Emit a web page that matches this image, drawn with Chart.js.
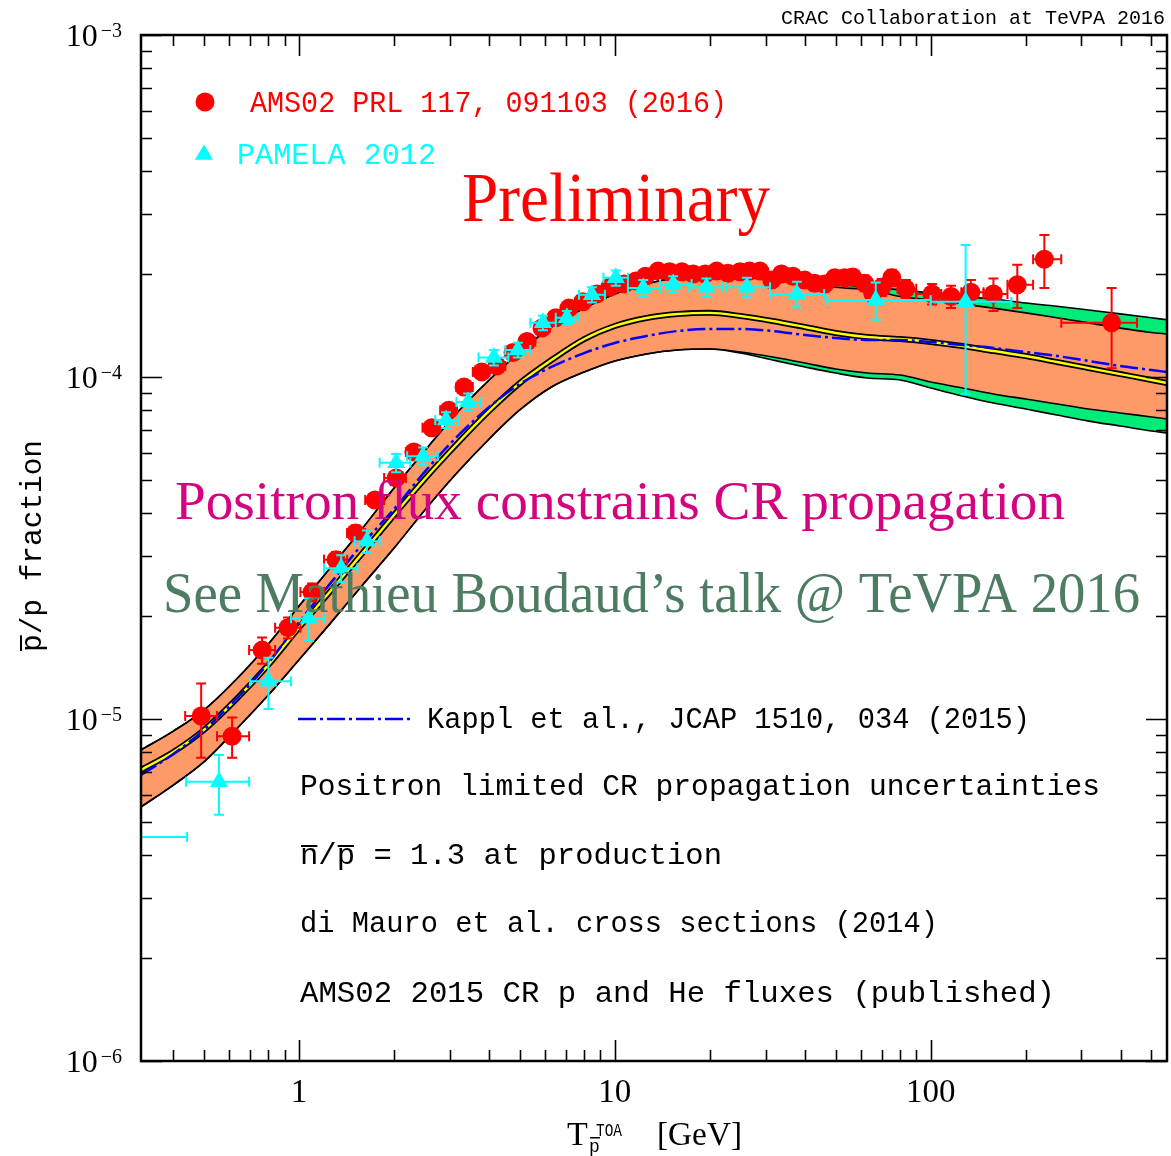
<!DOCTYPE html>
<html>
<head>
<meta charset="utf-8">
<script src="https://cdn.jsdelivr.net/npm/chart.js@4.4.0/dist/chart.umd.min.js"></script>
<style>
  html, body { margin: 0; padding: 0; background: #fff; }
</style>
</head>
<body>
<canvas id="chart" width="1171" height="1156"></canvas>
<script>
// energy grid (GeV) the propagation model curves are sampled on
var modelE = [0.316, 0.4, 0.5, 0.63, 0.8, 1, 1.26, 1.58, 2, 2.5, 3.16, 4, 5, 6.3, 8, 10, 12.6, 15.8,
  20, 25, 31.6, 40, 50, 63, 80, 100, 126, 158, 200, 251, 316, 398, 500, 560];

// green band: full uncertainty
var outerHigh = [8.12e-6, 9.22e-6, 1.062e-5, 1.30e-5, 1.657e-5, 2.14e-5, 2.78e-5, 3.59e-5, 4.74e-5, 6.08e-5,
  7.85e-5, 9.80e-5, 1.183e-4, 1.40e-4, 1.59e-4, 1.75e-4, 1.87e-4, 1.95e-4, 1.97e-4, 1.96e-4, 1.93e-4,
  1.91e-4, 1.87e-4, 1.83e-4, 1.80e-4, 1.76e-4, 1.72e-4, 1.69e-4, 1.645e-4, 1.61e-4, 1.57e-4, 1.53e-4, 1.49e-4, 1.47e-4];
var outerLow = [5.53e-6, 6.41e-6, 7.49e-6, 9.29e-6, 1.175e-5, 1.49e-5, 1.91e-5, 2.45e-5, 3.16e-5, 4.08e-5,
  5.24e-5, 6.59e-5, 8.01e-5, 9.35e-5, 1.034e-4, 1.114e-4, 1.168e-4, 1.199e-4, 1.207e-4,
  1.175e-4, 1.121e-4, 1.070e-4, 1.027e-4, 9.93e-5, 9.80e-5, 9.29e-5, 8.80e-5, 8.39e-5, 8.06e-5, 7.74e-5, 7.43e-5, 7.19e-5, 6.95e-5, 6.86e-5];

// orange band: positron-limited propagation uncertainty
var innerHigh = [8.12e-6, 9.22e-6, 1.062e-5, 1.30e-5, 1.657e-5, 2.14e-5, 2.78e-5, 3.59e-5, 4.74e-5, 6.08e-5,
  7.85e-5, 9.80e-5, 1.183e-4, 1.40e-4, 1.59e-4, 1.75e-4, 1.87e-4, 1.95e-4, 1.97e-4, 1.96e-4, 1.93e-4,
  1.90e-4, 1.83e-4, 1.80e-4, 1.72e-4, 1.68e-4, 1.635e-4, 1.59e-4, 1.54e-4, 1.49e-4, 1.44e-4, 1.39e-4, 1.35e-4, 1.336e-4];
var innerLow = [5.53e-6, 6.41e-6, 7.49e-6, 9.29e-6, 1.175e-5, 1.49e-5, 1.91e-5, 2.45e-5, 3.16e-5, 4.08e-5,
  5.24e-5, 6.59e-5, 8.01e-5, 9.35e-5, 1.034e-4, 1.114e-4, 1.168e-4, 1.199e-4, 1.207e-4,
  1.183e-4, 1.144e-4, 1.099e-4, 1.055e-4, 1.027e-4, 1.013e-4, 9.67e-5, 9.29e-5, 8.92e-5, 8.62e-5, 8.34e-5, 8.06e-5, 7.85e-5, 7.64e-5, 7.54e-5];

// best-fit (yellow) and Kappl et al. (blue dash-dot)
var bestFit = [7.10e-6, 8.01e-6, 9.29e-6, 1.137e-5, 1.44e-5, 1.85e-5, 2.37e-5, 3.04e-5, 3.95e-5, 5.03e-5,
  6.37e-5, 7.96e-5, 9.60e-5, 1.121e-4, 1.291e-4, 1.41e-4, 1.488e-4, 1.528e-4, 1.54e-4, 1.508e-4, 1.458e-4,
  1.40e-4, 1.345e-4, 1.309e-4, 1.291e-4, 1.266e-4, 1.232e-4, 1.191e-4, 1.152e-4, 1.106e-4, 1.062e-4, 1.020e-4, 9.80e-5, 9.60e-5];
var kappl = [6.86e-6, 7.90e-6, 9.29e-6, 1.137e-5, 1.458e-5, 1.92e-5, 2.50e-5, 3.23e-5, 4.11e-5, 5.28e-5,
  6.68e-5, 8.17e-5, 9.54e-5, 1.070e-4, 1.175e-4, 1.257e-4, 1.318e-4, 1.363e-4, 1.382e-4, 1.382e-4, 1.363e-4,
  1.327e-4, 1.30e-4, 1.283e-4, 1.283e-4, 1.266e-4, 1.24e-4, 1.216e-4, 1.183e-4, 1.152e-4, 1.114e-4, 1.077e-4, 1.048e-4, 1.034e-4];

// AMS-02 pbar/p
var amsE = [0.49, 0.614, 0.764, 0.923, 1.10, 1.31, 1.51, 1.74, 2.03, 2.31, 2.63, 2.98, 3.33, 3.79, 4.23, 4.76,
  5.27, 5.88, 6.50, 7.15, 7.92, 8.77, 9.64, 10.7, 11.66, 12.5, 13.7, 14.9, 16.3, 17.7, 19.3, 21.0, 22.8, 24.9,
  26.7, 28.8, 31.4, 33.7, 36.6, 39.9, 42.9, 46.2, 49.7, 53.4, 56.6, 61.8, 65.5, 70.0, 75.3, 83.4, 101, 116,
  134, 158, 188, 229, 374];
var amsRatio = [1.02e-5, 8.9e-6, 1.59e-5, 1.85e-5, 2.35e-5, 2.92e-5, 3.50e-5, 4.37e-5, 5.07e-5, 6.04e-5, 7.1e-5,
  8.0e-5, 9.35e-5, 1.035e-4, 1.077e-4, 1.18e-4, 1.27e-4, 1.39e-4, 1.49e-4, 1.59e-4, 1.66e-4, 1.75e-4, 1.83e-4,
  1.87e-4, 1.91e-4, 1.97e-4, 2.04e-4, 2.03e-4, 2.03e-4, 2.00e-4, 2.00e-4, 2.04e-4, 2.01e-4, 2.03e-4, 2.04e-4,
  2.04e-4, 1.92e-4, 2.00e-4, 1.97e-4, 1.92e-4, 1.88e-4, 1.87e-4, 1.95e-4, 1.95e-4, 1.96e-4, 1.88e-4, 1.76e-4,
  1.83e-4, 1.95e-4, 1.81e-4, 1.75e-4, 1.72e-4, 1.77e-4, 1.75e-4, 1.86e-4, 2.21e-4, 1.44e-4];
var amsErr = [2.5e-6, 1.2e-6, 1.4e-6, 1.3e-6, 1.4e-6, 1.6e-6, 1.8e-6, 2.0e-6, 2.2e-6, 2.5e-6, 2.8e-6, 3.0e-6,
  3.5e-6, 4.0e-6, 4.0e-6, 4.5e-6, 4.5e-6, 5.0e-6, 5.0e-6, 5.5e-6, 6.0e-6, 6.0e-6, 6.0e-6, 6.0e-6, 6.0e-6,
  6.0e-6, 7.0e-6, 7.0e-6, 7.0e-6, 7.0e-6, 7.0e-6, 7.5e-6, 7.5e-6, 8.0e-6, 8.0e-6, 8.0e-6, 8.0e-6, 8.5e-6,
  8.5e-6, 9.0e-6, 9.0e-6, 9.0e-6, 9.5e-6, 9.5e-6, 1.0e-5, 1.0e-5, 1.0e-5, 1.05e-5, 1.1e-5, 1.1e-5, 1.2e-5,
  1.3e-5, 1.5e-5, 1.9e-5, 2.7e-5, 3.9e-5, 3.8e-5];
var amsBinEdges = [0.436, 0.55, 0.695, 0.84, 1.01, 1.2, 1.42, 1.62, 1.86, 2.18, 2.46, 2.8, 3.15, 3.55, 4.0,
  4.5, 5.0, 5.6, 6.2, 6.85, 7.5, 8.35, 9.2, 10.2, 11.2, 12.1, 13.1, 14.3, 15.6, 17.0, 18.5, 20.1, 21.9, 23.8,
  25.8, 27.7, 30.0, 32.5, 35.1, 38.2, 41.4, 44.5, 48.0, 51.5, 55.0, 59.0, 63.6, 67.7, 72.6, 78.5, 90, 108,
  125, 147, 175, 211, 259, 450];

// PAMELA 2012
var pamE = [0.28, 0.558, 0.80, 1.075, 1.36, 1.64, 2.03, 2.47, 2.92, 3.43, 4.14, 4.93, 5.92, 7.05, 8.46, 10.07,
  12.3, 15.3, 19.5, 26.2, 37.7, 67, 129];
var pamRatio = [4.52e-6, 6.55e-6, 1.29e-5, 1.97e-5, 2.76e-5, 3.31e-5, 5.61e-5, 5.87e-5, 7.49e-5, 8.45e-5,
  1.14e-4, 1.20e-4, 1.44e-4, 1.49e-4, 1.74e-4, 1.95e-4, 1.82e-4, 1.87e-4, 1.83e-4, 1.83e-4, 1.75e-4, 1.68e-4, 1.66e-4];
var pamErr = [3e-7, 1.3e-6, 2.2e-6, 2.8e-6, 2.5e-6, 2.5e-6, 3.4e-6, 3.5e-6, 4e-6, 5e-6, 6e-6, 6e-6, 7e-6, 7e-6,
  9e-6, 1.0e-5, 1.0e-5, 1.0e-5, 1.1e-5, 1.2e-5, 1.5e-5, 2.1e-5, 7.7e-5];
var pamLo = [0.18, 0.439, 0.70, 0.943, 1.2, 1.5, 1.8, 2.2, 2.7, 3.15, 3.7, 4.5, 5.4, 6.5, 7.7, 9.2, 11.0, 13.9,
  17.2, 22.5, 31, 47, 100];
var pamHi = [0.442, 0.695, 0.943, 1.2, 1.53, 1.8, 2.25, 2.75, 3.2, 3.75, 4.6, 5.4, 6.5, 7.7, 9.3, 11.0, 13.9,
  17.5, 22.0, 31.0, 46, 100, 180];

// axis ticks
var xTickValues = [1, 10, 100];
var xTickLabels = ['1', '10', '100'];
var yTickValues = [1e-3, 1e-4, 1e-5, 1e-6];
var yTickExps = ['\u22123', '\u22124', '\u22125', '\u22126'];

var SERIF = '"Liberation Serif", "Times New Roman", serif';
var MONO = '"Liberation Mono", "Courier New", monospace';
var ORANGE = '#fe9a68';
var GREEN = '#00eb78';

function curve(vals) {
  return modelE.map(function (e, i) { return { x: e, y: vals[i] }; });
}
function points(es, vs) {
  return es.map(function (e, i) { return { x: e, y: vs[i] }; });
}

function lineSet(vals, extra) {
  var ds = {
    data: curve(vals),
    borderColor: '#000',
    borderWidth: 1.6,
    pointRadius: 0,
    fill: false,
    cubicInterpolationMode: 'monotone'
  };
  for (var k in extra) ds[k] = extra[k];
  return ds;
}

// draw text, optionally stretched to a given width
function put(ctx, str, x, y, font, color, align, fitW) {
  ctx.save();
  ctx.font = font;
  ctx.fillStyle = color;
  ctx.textBaseline = 'alphabetic';
  ctx.textAlign = 'left';
  var w = ctx.measureText(str).width;
  var sx = fitW ? fitW / w : 1;
  var left = align === 'right' ? x - w * sx : (align === 'center' ? x - w * sx / 2 : x);
  ctx.translate(left, y);
  ctx.scale(sx, 1);
  ctx.fillText(str, 0, 0);
  ctx.restore();
  return { left: left, scale: sx, width: w * sx };
}

// horizontal and vertical error bars under the markers
var errorBars = {
  id: 'errorBars',
  beforeDatasetDraw: function (chart, args) {
    var ds = chart.data.datasets[args.index];
    if (!ds.errY) return;
    var ctx = chart.ctx, xs = chart.scales.x, ys = chart.scales.y, a = chart.chartArea;
    ctx.save();
    ctx.beginPath();
    ctx.rect(a.left, a.top, a.right - a.left, a.bottom - a.top);
    ctx.clip();
    ctx.strokeStyle = ds.backgroundColor;
    ctx.lineWidth = 2;
    ds.data.forEach(function (p, i) {
      var px = xs.getPixelForValue(p.x), py = ys.getPixelForValue(p.y);
      var y1 = ys.getPixelForValue(p.y + ds.errY[i]);
      var y2 = ys.getPixelForValue(p.y - ds.errY[i]);
      var x1 = xs.getPixelForValue(ds.binLo[i]);
      var x2 = xs.getPixelForValue(ds.binHi[i]);
      ctx.beginPath();
      ctx.moveTo(px, y1); ctx.lineTo(px, y2);
      ctx.moveTo(px - 5, y1); ctx.lineTo(px + 5, y1);
      ctx.moveTo(px - 5, y2); ctx.lineTo(px + 5, y2);
      ctx.moveTo(x1, py); ctx.lineTo(x2, py);
      ctx.moveTo(x1, py - 5); ctx.lineTo(x1, py + 5);
      ctx.moveTo(x2, py - 5); ctx.lineTo(x2, py + 5);
      ctx.stroke();
    });
    ctx.restore();
  }
};

// frame, inward ticks on all four sides, tick labels
var frame = {
  id: 'frame',
  afterDatasetsDraw: function (chart) {
    var ctx = chart.ctx, a = chart.chartArea, xs = chart.scales.x, ys = chart.scales.y;
    ctx.save();
    ctx.strokeStyle = '#000';
    ctx.lineWidth = 1.6;
    ctx.beginPath();
    for (var d = -1; d <= 2; d++) {
      for (var m = 1; m <= 9; m++) {
        var v = m * Math.pow(10, d);
        if (v < xs.min || v > xs.max) continue;
        var px = Math.round(xs.getPixelForValue(v)) + 0.5;
        var len = m === 1 ? 21 : 11;
        ctx.moveTo(px, a.bottom); ctx.lineTo(px, a.bottom - len);
        ctx.moveTo(px, a.top); ctx.lineTo(px, a.top + len);
      }
    }
    for (d = -6; d <= -3; d++) {
      for (m = 1; m <= 9; m++) {
        v = m * Math.pow(10, d);
        if (v < ys.min * 0.999 || v > ys.max * 1.001) continue;
        var py = Math.round(ys.getPixelForValue(v)) + 0.5;
        len = m === 1 ? 21 : 11;
        ctx.moveTo(a.left, py); ctx.lineTo(a.left + len, py);
        ctx.moveTo(a.right, py); ctx.lineTo(a.right - len, py);
      }
    }
    ctx.stroke();
    ctx.lineWidth = 2.5;
    ctx.strokeRect(a.left, a.top, a.right - a.left, a.bottom - a.top);
    ctx.restore();

    xTickValues.forEach(function (v, i) {
      put(ctx, xTickLabels[i], xs.getPixelForValue(v), 1102, '33px ' + SERIF, '#000', 'center');
    });
    yTickValues.forEach(function (v, i) {
      var py = ys.getPixelForValue(v);
      var sup = put(ctx, yTickExps[i], 122, py + 2, '20px ' + SERIF, '#000', 'right');
      put(ctx, '10', sup.left - 3, py + 11, '32px ' + SERIF, '#000', 'right');
    });
  }
};

// legends, annotations and axis titles
var notes = {
  id: 'notes',
  afterDraw: function (chart) {
    var ctx = chart.ctx;
    put(ctx, 'CRAC Collaboration at TeVPA 2016', 1165, 24, '20px ' + MONO, '#000', 'right', 384);

    // upper legend
    ctx.save();
    ctx.fillStyle = '#ff0000';
    ctx.beginPath();
    ctx.arc(205, 102, 9.5, 0, Math.PI * 2);
    ctx.fill();
    ctx.fillStyle = '#00ffff';
    ctx.beginPath();
    ctx.moveTo(204, 144.5);
    ctx.lineTo(204 + 9.1, 159.8);
    ctx.lineTo(204 - 9.1, 159.8);
    ctx.closePath();
    ctx.fill();
    ctx.restore();
    put(ctx, 'AMS02 PRL 117, 091103 (2016)', 250, 112, '29px ' + MONO, '#ff0000', 'left', 477);
    put(ctx, 'PAMELA 2012', 237, 164, '30px ' + MONO, '#00ffff', 'left', 199);

    put(ctx, 'Preliminary', 462, 221, '70px ' + SERIF, '#ff0000', 'left', 308);
    put(ctx, 'Positron flux constrains CR propagation', 175, 519, '54px ' + SERIF, '#d4037f', 'left', 890);
    put(ctx, 'See Mathieu Boudaud\u2019s talk @ TeVPA 2016', 163, 612, '56px ' + SERIF, '#4d7c62', 'left', 977);

    // lower legend
    ctx.save();
    ctx.strokeStyle = '#0000ff';
    ctx.lineWidth = 2.5;
    ctx.setLineDash([18, 4, 3, 4]);
    ctx.beginPath();
    ctx.moveTo(298, 719);
    ctx.lineTo(410, 719);
    ctx.stroke();
    ctx.restore();
    put(ctx, 'Kappl et al., JCAP 1510, 034 (2015)', 427, 728, '29px ' + MONO, '#000', 'left', 603);
    put(ctx, 'Positron limited CR propagation uncertainties', 300, 795, '29px ' + MONO, '#000', 'left', 800);
    var np = put(ctx, 'n/p = 1.3 at production', 300, 864, '29px ' + MONO, '#000', 'left', 422);
    ctx.save();
    ctx.font = '29px ' + MONO;
    var adv = ctx.measureText('n').width * np.scale;
    ctx.fillStyle = '#000';
    ctx.fillRect(np.left + 1, 845, adv - 2, 2);
    ctx.fillRect(np.left + 2 * adv + 1, 845, adv - 2, 2);
    ctx.restore();
    put(ctx, 'di Mauro et al. cross sections (2014)', 300, 932, '29px ' + MONO, '#000', 'left', 638);
    put(ctx, 'AMS02 2015 CR p and He fluxes (published)', 300, 1002, '29px ' + MONO, '#000', 'left', 755);

    // y title, rotated
    ctx.save();
    ctx.translate(41, 652);
    ctx.rotate(-Math.PI / 2);
    var yt = put(ctx, 'p/p fraction', 0, 0, '29px ' + MONO, '#000', 'left', 212);
    ctx.font = '29px ' + MONO;
    var padv = ctx.measureText('p').width * yt.scale;
    ctx.fillStyle = '#000';
    ctx.fillRect(1, -21, padv - 2, 2);
    ctx.restore();

    // x title
    put(ctx, 'T', 567, 1145, '34px ' + SERIF, '#000', 'left');
    put(ctx, 'TOA', 596, 1136, '18px ' + MONO, '#000', 'left', 26);
    put(ctx, 'p', 589, 1152, '18px ' + MONO, '#000', 'left');
    ctx.fillStyle = '#000';
    ctx.fillRect(590, 1137, 10, 1.5);
    put(ctx, '[GeV]', 657, 1145, '34px ' + SERIF, '#000', 'left', 85);
  }
};

new Chart(document.getElementById('chart'), {
  type: 'line',
  data: {
    datasets: [
      lineSet(outerHigh, { order: 20 }),
      lineSet(outerLow, { order: 19, fill: 0, backgroundColor: GREEN }),
      lineSet(innerHigh, { order: 18 }),
      lineSet(innerLow, { order: 17, fill: 2, backgroundColor: ORANGE }),
      lineSet(bestFit, { order: 16, borderWidth: 6 }),
      lineSet(bestFit, { order: 15, borderColor: '#ffff00', borderWidth: 2.4 }),
      lineSet(kappl, { order: 14, borderColor: '#0000ff', borderWidth: 2.5, borderDash: [18, 4, 3, 4] }),
      {
        order: 5,
        data: points(amsE, amsRatio),
        showLine: false,
        pointStyle: 'circle',
        pointRadius: 9.5,
        pointBorderWidth: 0,
        backgroundColor: '#ff0000',
        pointBackgroundColor: '#ff0000',
        clip: 0,
        errY: amsErr,
        binLo: amsBinEdges.slice(0, -1),
        binHi: amsBinEdges.slice(1)
      },
      {
        order: 4,
        data: points(pamE, pamRatio),
        showLine: false,
        pointStyle: 'triangle',
        pointRadius: 10.5,
        pointBorderWidth: 0,
        backgroundColor: '#00ffff',
        pointBackgroundColor: '#00ffff',
        clip: 0,
        errY: pamErr,
        binLo: pamLo,
        binHi: pamHi
      }
    ]
  },
  options: {
    responsive: false,
    animation: false,
    devicePixelRatio: 1,
    events: [],
    layout: { autoPadding: false, padding: { left: 141, top: 35, right: 4, bottom: 95 } },
    scales: {
      x: { type: 'logarithmic', min: 0.316, max: 560, bounds: 'data', display: false },
      y: { type: 'logarithmic', min: 1e-6, max: 1e-3, bounds: 'data', display: false }
    },
    plugins: {
      legend: { display: false },
      tooltip: { enabled: false },
      filler: { drawTime: 'beforeDatasetsDraw' }
    }
  },
  plugins: [errorBars, frame, notes]
});
</script>
</body>
</html>
